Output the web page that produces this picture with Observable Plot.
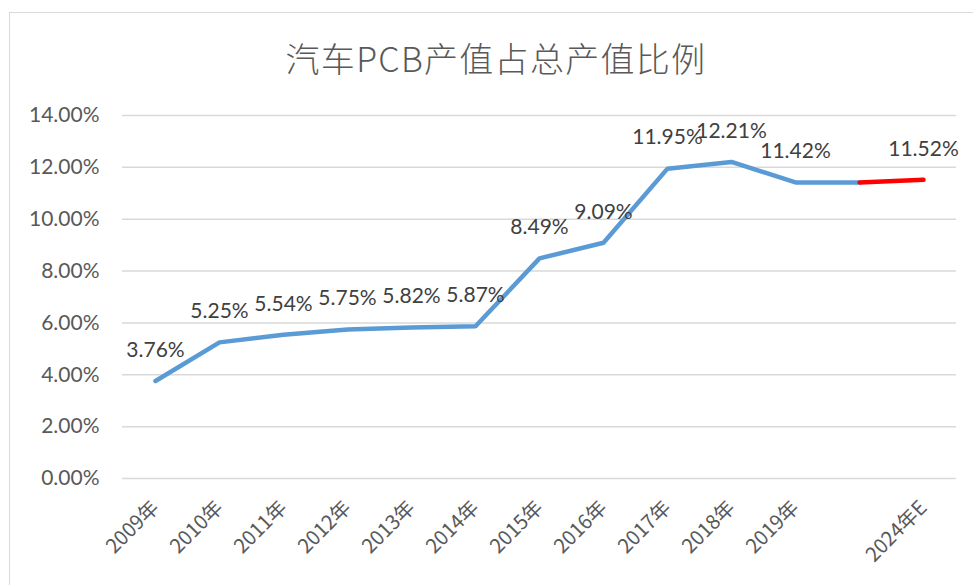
<!DOCTYPE html>
<html><head><meta charset="utf-8">
<script src="https://cdn.jsdelivr.net/npm/d3@7"></script>
<script src="https://cdn.jsdelivr.net/npm/@observablehq/plot@0.6"></script>
<style>
body{margin:0;background:#fff;overflow:hidden;}
#wrap{position:relative;width:973px;height:585px;overflow:hidden;background:#fff;}
#frame{position:absolute;left:9px;top:12px;width:1000px;height:700px;border:1.5px solid #d9d9d9;}
#title{position:relative;height:95px;box-sizing:border-box;padding-top:39px;padding-left:19px;text-align:center;font-family:"Noto Sans CJK SC";font-weight:300;font-size:34px;line-height:38px;letter-spacing:1.3px;color:#595959;}
#chart{position:relative;height:490px;}
</style></head><body>
<div id="wrap"><div id="frame"></div><div id="title">汽车PCB产值占总产值比例</div><div id="chart"></div></div>
<script>
const categories = ["2009年","2010年","2011年","2012年","2013年","2014年","2015年","2016年","2017年","2018年","2019年","","2024年E"];
const actualCategories = ["2009年","2010年","2011年","2012年","2013年","2014年","2015年","2016年","2017年","2018年","2019年"];
const actualValues = [3.76,5.25,5.54,5.75,5.82,5.87,8.49,9.09,11.95,12.21,11.42];
const bridgeCategory = "";
const bridgeValue = 11.42;
const forecastCategory = "2024年E";
const forecastValue = 11.52;
const yTicks = [0,2,4,6,8,10,12,14];

const blue = actualCategories.map((c,i)=>({c, v: actualValues[i]})).concat([{c: bridgeCategory, v: bridgeValue}]);
const red = [{c: bridgeCategory, v: bridgeValue}, {c: forecastCategory, v: forecastValue}];
const labels = actualCategories.map((c,i)=>({c, v: actualValues[i]})).concat([{c: forecastCategory, v: forecastValue}]);

const numFont = "Lato, 'Liberation Sans', sans-serif";
const chart = Plot.plot({
  width: 973,
  height: 490,
  marginLeft: 122,
  marginRight: 17,
  marginTop: 20,
  marginBottom: 107,
  style: {fontFamily: numFont, fontSize: "21px", color: "#595959", background: "transparent", overflow: "visible"},
  x: {type: "point", domain: categories, padding: 0.5},
  y: {domain: [0, 14]},
  marks: [
    Plot.ruleY(yTicks, {stroke: "#d9d9d9", strokeWidth: 1.5}),
    Plot.axisY({ticks: yTicks, tickSize: 0, tickPadding: 23, tickFormat: d => d.toFixed(2) + "%", fill: "#595959", fontSize: 21, label: null}),
    Plot.axisX({tickSize: 0, tickPadding: 26, tickRotate: -45, fill: "#595959", fontSize: 20, fontFamily: "'Noto Sans CJK SC', Lato, sans-serif", label: null}),
    Plot.line(blue, {x: "c", y: "v", stroke: "#5b9bd5", strokeWidth: 4.5, strokeLinejoin: "miter", strokeLinecap: "round"}),
    Plot.line(red, {x: "c", y: "v", stroke: "#ff0000", strokeWidth: 4.5, strokeLinecap: "round"}),
    Plot.text(labels, {x: "c", y: "v", text: d => d.v.toFixed(2) + "%", dy: -31, fill: "#404040", fontSize: 21, fontFamily: numFont})
  ]
});
document.getElementById("chart").appendChild(chart);
</script>
</body></html>
